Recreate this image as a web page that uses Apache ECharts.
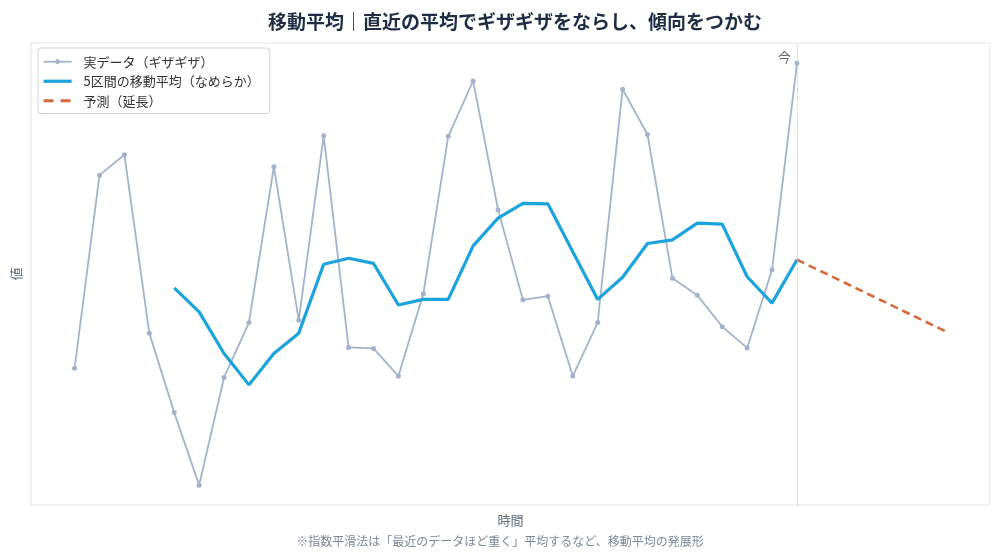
<!DOCTYPE html>
<html>
<head>
<meta charset="utf-8">
<script src="https://cdn.jsdelivr.net/npm/echarts@6/dist/echarts.min.js"></script>
<style>
html,body{margin:0;padding:0;background:#fff;}
#c{width:1000px;height:560px;}
</style>
</head>
<body>
<div id="c"></div>
<script>
// time index 0..29 (observed), forecast to 35
const timeIdx = [0,1,2,3,4,5,6,7,8,9,10,11,12,13,14,15,16,17,18,19,20,21,22,23,24,25,26,27,28,29];
const actual = [29.6,71.4,75.8,37.2,20.0,4.3,27.6,39.5,73.2,40.0,79.9,34.1,33.9,27.9,45.7,79.8,91.8,63.9,44.4,45.2,27.9,39.5,90.0,80.2,49.1,45.4,38.6,34.0,50.9,95.6];
// 5-period moving average (starts at index 4)
const maIdx = [4,5,6,7,8,9,10,11,12,13,14,15,16,17,18,19,20,21,22,23,24,25,26,27,28,29];
const movingAvg = [47.0,41.8,32.8,26.0,32.8,37.2,52.1,53.4,52.3,43.3,44.5,44.5,56.1,62.1,65.3,65.2,54.8,44.5,49.3,56.6,57.4,61.0,60.8,49.4,43.7,53.1];
const forecastIdx = [29,35];
const forecast = [53.1,37.5];
const nowIdx = 29;

const names = ['実データ（ギザギザ）','5区間の移動平均（なめらか）','予測（延長）'];
const pair = (xs, ys) => xs.map((x,i)=>[x,ys[i]]);

const chart = echarts.init(document.getElementById('c'));
const font = '"Noto Sans CJK JP","Noto Sans",sans-serif';
chart.setOption({
  animation:false,
  textStyle:{fontFamily:font},
  title:{
    text:'移動平均｜直近の平均でギザギザをならし、傾向をつかむ',
    left:510, top:7, textAlign:'center',
    textStyle:{fontSize:19,fontWeight:'bold',color:'#1f2d45',fontFamily:font}
  },
  graphic:[{
    type:'text', left:'center', top:535,
    style:{text:'※指数平滑法は「最近のデータほど重く」平均するなど、移動平均の発展形',fill:'#7d8799',font:'12px '+font}
  }],
  legend:{
    orient:'vertical', left:38, top:48,
    padding:[6,10,5,4], itemGap:4, itemWidth:28, itemHeight:6,
    backgroundColor:'#fff', borderColor:'#cfd3d8', borderWidth:1, borderRadius:3,
    textStyle:{fontSize:13,color:'#333',fontFamily:font,padding:[0,0,0,7],lineHeight:15.5},
    data:[
      {name:names[0], lineStyle:{width:1.8}},
      {name:names[1], itemStyle:{opacity:0}, lineStyle:{width:3.2}},
      {name:names[2], itemStyle:{opacity:0}, lineStyle:{width:2.8, type:[10,7]}}
    ]
  },
  grid:{left:31,right:10,top:43,bottom:55,show:true,borderColor:'#e2e5ea',borderWidth:1,backgroundColor:'#fff'},
  xAxis:{
    type:'value', min:-1.75, max:36.75,
    name:'時間', nameLocation:'middle', nameGap:9,
    nameTextStyle:{fontSize:13,color:'#5f6b7d'},
    axisLine:{show:false}, axisTick:{show:false}, axisLabel:{show:false}, splitLine:{show:false}
  },
  yAxis:{
    type:'value', min:0, max:100,
    name:'値', nameLocation:'middle', nameGap:8, nameRotate:90,
    nameTextStyle:{fontSize:13,color:'#5f6b7d'},
    axisLine:{show:false}, axisTick:{show:false}, axisLabel:{show:false}, splitLine:{show:false}
  },
  series:[
    {
      name:names[0], type:'line', data:pair(timeIdx, actual),
      symbol:'circle', symbolSize:5, showSymbol:true,
      lineStyle:{color:'#a4b3cb',width:1.8},
      itemStyle:{color:'#a4b3cb'},
      z:2,
      markLine:{
        silent:true, symbol:'none',
        lineStyle:{color:'#c0c9d6',type:'dotted',width:1},
        label:{show:false},
        data:[{xAxis:nowIdx}]
      },
      markPoint:{
        symbol:'circle', symbolSize:0,
        label:{show:true,formatter:'今',position:'left',distance:6,offset:[0,-6],color:'#666',fontSize:13},
        data:[{coord:[nowIdx, actual[actual.length-1]]}]
      }
    },
    {
      name:names[1], type:'line', data:pair(maIdx, movingAvg),
      showSymbol:false, symbol:'none',
      lineStyle:{color:'#1ba3dd',width:3.2},
      itemStyle:{color:'#1ba3dd'},
      z:3
    },
    {
      name:names[2], type:'line', data:pair(forecastIdx, forecast),
      showSymbol:false, symbol:'none',
      lineStyle:{color:'#d4693a',width:2.6,type:[8,5]},
      itemStyle:{color:'#d4693a'},
      z:3
    }
  ]
});
</script>
</body>
</html>
